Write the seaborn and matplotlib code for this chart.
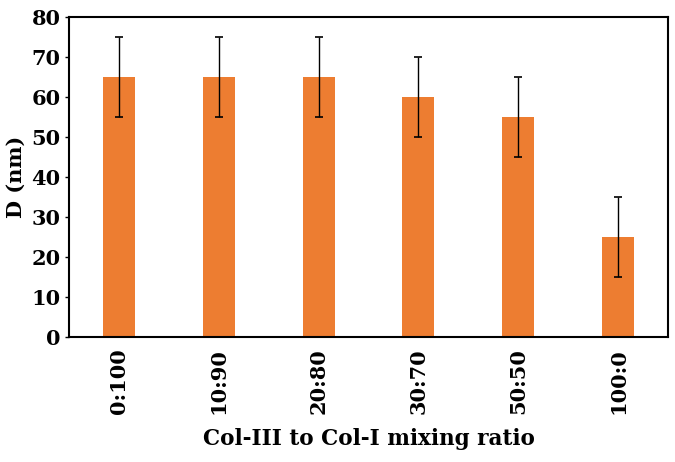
import matplotlib
matplotlib.use("Agg")
import matplotlib.pyplot as plt
import seaborn as sns
import pandas as pd

ratios = ["0:100", "10:90", "20:80", "30:70", "50:50", "100:0"]
diameter = [65, 65, 65, 60, 55, 25]
error = [10, 10, 10, 10, 10, 10]

sns.set_theme(style="white")
plt.rcParams['font.family'] = ['DejaVu Serif']
plt.rcParams['font.weight'] = 'bold'

df = pd.DataFrame({"ratio": ratios, "D": diameter})

fig = plt.figure(figsize=(6.75, 4.62), dpi=100)
ax = fig.add_axes([69/675, 1 - 337/462, (668-69)/675, (337-17)/462])

sns.barplot(data=df, x="ratio", y="D", color="#ED7D31", saturation=1, width=0.32,
            ax=ax, errorbar=None, linewidth=0)
ax.errorbar(range(len(ratios)), diameter, yerr=error, fmt="none", ecolor="black",
            elinewidth=1, capsize=3, capthick=1.2)

ax.set_ylim(0, 80)
ax.set_xlim(-0.5, 5.5)
ax.set_yticks(range(0, 81, 10))
ax.tick_params(axis="y", labelsize=15, length=3, width=1, direction="out", left=True, pad=3, colors="black")
ax.tick_params(axis="x", labelsize=15, length=0, rotation=90, pad=8, colors="black")
for lbl in ax.get_xticklabels() + ax.get_yticklabels():
    lbl.set_fontweight("bold")
ax.set_xlabel("Col-III to Col-I mixing ratio", fontsize=15.5, fontweight="bold", labelpad=10, color="black")
ax.set_ylabel("D (nm)", fontsize=15, fontweight="bold", labelpad=4, color="black")
for s in ax.spines.values():
    s.set_color("black")
    s.set_linewidth(1.5)

fig.savefig("out.png", dpi=100)
